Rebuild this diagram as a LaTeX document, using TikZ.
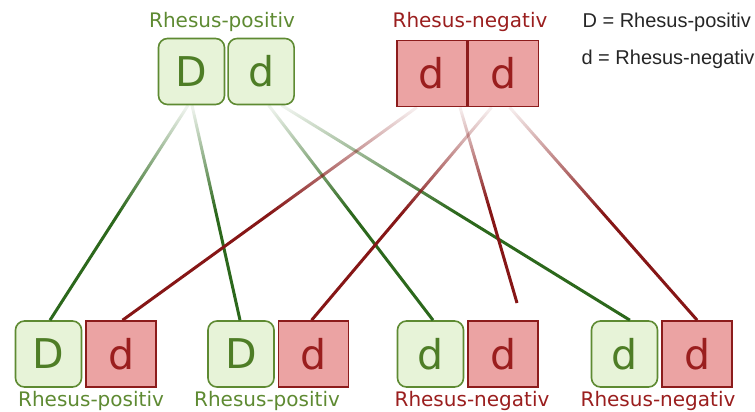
\documentclass[tikz,border=0pt]{standalone}
\usepackage{fontspec}
\setmainfont{DejaVu Sans}
\newfontfamily\legendfont{Liberation Sans}
\usetikzlibrary{positioning,fadings}

\definecolor{posfill}{HTML}{E7F3D8}
\definecolor{posdraw}{HTML}{5E8A32}
\definecolor{postext}{HTML}{4E7D26}
\definecolor{posline}{HTML}{2C681C}
\definecolor{negfill}{HTML}{EBA3A3}
\definecolor{negdraw}{HTML}{8C1C1C}
\definecolor{negtext}{HTML}{9A1E1E}
\definecolor{negline}{HTML}{861616}

% lines fade out towards the parents
\pgfdeclareverticalshading{fadeshade}{100bp}{color(0bp)=(transparent!0); color(50bp)=(transparent!0); color(74bp)=(transparent!92); color(100bp)=(transparent!92)}
\pgfdeclarefading{fadetop}{\pgfuseshading{fadeshade}}

\begin{document}
\begin{tikzpicture}[x=1pt,y=-1pt,
  posbox/.style={draw=posdraw,fill=posfill,text=postext,line width=1.6pt,rounded corners=9pt,
    minimum width=66pt,minimum height=66pt,inner sep=0pt,font=\fontsize{41}{41}\selectfont},
  negbox/.style={draw=negdraw,fill=negfill,text=negtext,line width=1.6pt,
    minimum width=70pt,minimum height=66pt,inner sep=0pt,font=\fontsize{41}{41}\selectfont},
  poslabel/.style={text=posdraw,anchor=base,font=\fontsize{20}{20}\selectfont},
  neglabel/.style={text=negtext,anchor=base,font=\fontsize{20}{20}\selectfont},
  legend/.style={text=black!85,anchor=base west,font=\legendfont\fontsize{20}{20}\selectfont},
  posconn/.style={draw=posline,line width=3pt,path fading=fadetop},
  negconn/.style={draw=negline,line width=3pt,path fading=fadetop}]
  \useasboundingbox (0,0) rectangle (755,412);

  % parents
  \node[posbox] (posD) at (191.5,71.5) {D};
  \node[posbox,right=2pt of posD] (posd) {d};
  \node[negbox] (negA) at (432,73.5) {d};
  \node[negbox,right=0pt of negA] (negB) {d};
  \node[poslabel] (posname) at (222,28) {Rhesus-positiv};
  \node[neglabel] (negname) at (470,28) {Rhesus-negativ};

  % legend
  \node[legend] (keyD) at (579,28) {D = Rhesus-positiv};
  \node[legend] (keyd) at (578,65) {d = Rhesus-negativ};

  % children
  \node[posbox] (kid1D) at (48.5,354) {D};
  \node[negbox,right=3pt of kid1D] (kid1d) {d};
  \node[posbox] (kid2D) at (241,354) {D};
  \node[negbox,right=3pt of kid2D] (kid2d) {d};
  \node[posbox] (kid3D) at (430.5,354) {d};
  \node[negbox,right=3pt of kid3D] (kid3d) {d};
  \node[posbox] (kid4D) at (624.5,354) {d};
  \node[negbox,right=3pt of kid4D] (kid4d) {d};

  \node[poslabel] (kid1name) at (91,406.5) {Rhesus-positiv};
  \node[poslabel] (kid2name) at (267,406.5) {Rhesus-positiv};
  \node[neglabel] (kid3name) at (472,406.5) {Rhesus-negativ};
  \node[neglabel] (kid4name) at (658,406.5) {Rhesus-negativ};

  \coordinate (loose) at (517,303);

  % green lines
  \draw[posconn] ([xshift=-3.5pt]posD.south) -- ([xshift=1.5pt]kid1D.north);
  \draw[posconn] ([xshift=0.5pt]posD.south) -- ([xshift=-1pt]kid2D.north);
  \draw[posconn] ([xshift=7.5pt]posd.south) -- ([xshift=2.5pt]kid3D.north);
  \draw[posconn] ([xshift=20.5pt]posd.south) -- ([xshift=5.5pt]kid4D.north);
  % red lines
  \draw[negconn] ([xshift=-15pt]negA.south) -- ([xshift=1.5pt]kid1d.north);
  \draw[negconn] ([xshift=28pt]negA.south) -- (loose);
  \draw[negconn] ([xshift=-12pt]negB.south) -- ([xshift=-2pt]kid2d.north);
  \draw[negconn] ([xshift=6pt]negB.south) -- (kid4d.north);
\end{tikzpicture}
\end{document}
